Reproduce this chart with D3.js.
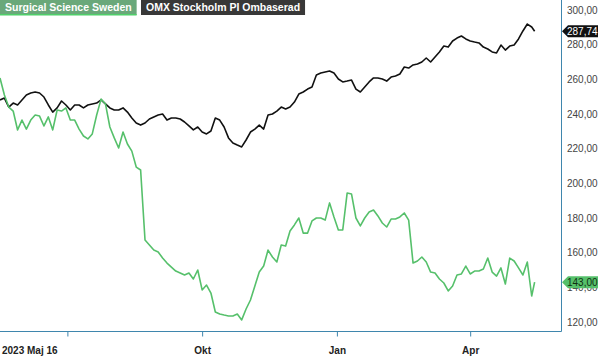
<!DOCTYPE html>
<html><head><meta charset="utf-8">
<script src="https://cdn.jsdelivr.net/npm/d3@7/dist/d3.min.js"></script>
<style>body{margin:0;background:#fff}svg{display:block;font-family:Arial,"Liberation Sans",sans-serif}</style>
</head><body><svg id="c" width="600" height="358"></svg>
<script>
const seriesNames = ["Surgical Science Sweden", "OMX Stockholm PI Ombaserad"];
const startDate = "2023-05-16";
const stepDays = 3;
const lastDate = "2024-05-15";
const surgical = [260.8,251.0,244.0,241.7,230.8,236.5,231.3,236.5,239.4,238.8,
233.1,238.3,230.8,242.3,241.7,243.5,236.5,236.5,231.3,227.3,
225.6,228.5,239.4,248.6,245.8,232.5,226.2,220.4,229.6,222.7,
218.6,209.4,207.7,167.3,164.4,161.5,160.4,156.9,154.0,151.7,
149.4,148.3,147.1,148.3,144.8,150.0,138.5,141.3,136.7,125.8,
124.6,124.0,123.5,123.5,124.6,121.2,127.5,132.7,140.8,148.8,
152.3,161.5,157.5,154.6,164.4,163.8,172.5,176.0,180.0,171.3,
171.3,178.3,180.0,180.0,178.8,188.7,180.6,173.1,173.1,194.4,
193.8,180.0,175.4,180.0,183.5,184.6,181.2,177.1,174.8,179.4,
179.4,180.6,182.9,178.8,154.0,155.2,157.5,154.6,148.8,148.3,
144.8,142.5,137.9,140.8,147.1,147.7,152.3,147.7,149.4,149.4,
150.6,156.9,148.8,146.5,151.2,141.9,156.9,155.2,151.2,147.1,
154.6,135.0,143.00];
const omx = [248.1,249.2,244.0,246.3,245.2,248.1,251.0,252.1,252.7,252.1,
249.8,245.2,241.1,243.5,247.5,245.2,242.3,245.2,245.2,243.5,
245.2,245.8,246.3,248.1,245.8,243.5,242.3,242.3,243.5,241.1,
237.7,234.8,233.6,234.8,237.1,238.3,239.4,240.0,236.5,237.7,
237.7,237.1,235.4,233.1,230.8,232.5,229.6,228.5,230.2,237.7,
236.5,232.5,226.2,223.3,222.1,221.0,225.0,229.6,231.3,233.6,
231.3,239.4,240.0,241.7,244.0,242.9,244.0,246.9,251.5,252.7,
254.4,255.6,262.5,263.6,264.2,264.8,263.6,260.2,258.5,259.0,
259.6,254.4,252.7,255.6,258.5,260.8,260.8,260.2,259.0,261.3,
261.9,263.1,267.1,266.5,268.3,268.8,270.0,272.3,270.0,272.9,
275.8,279.2,278.6,282.1,283.8,285.0,283.3,282.1,281.5,281.0,
278.6,277.5,275.8,275.2,279.8,276.9,279.2,279.8,283.3,287.9,
291.9,290.2,287.74];
const yTicks = [120,140,160,180,200,220,240,260,280,300];
const xTickDates = ["2023-07-01","2023-10-01","2024-01-01","2024-04-01"];
const xTickLabels = ["", "Okt", "Jan", "Apr"];
const firstLabel = "2023 Maj 16";

const parse = d3.timeParse("%Y-%m-%d");
const n = surgical.length;
const dates = d3.range(n - 1).map(i => d3.timeDay.offset(parse(startDate), i * stepDays)).concat([parse(lastDate)]);

const svg = d3.select("#c");
const plotR = 561, plotB = 331;
const x = d3.scaleTime().domain([parse(startDate), parse("2024-06-02")]).range([0, plotR]);
const y = d3.scaleLinear().domain([120, 300]).range([322, 10]);

const fmt = v => d3.format(".2f")(v).replace(".", ",");
const axisCol = "#3f86ad";

// lines
const line = d3.line().x((d, i) => x(dates[i])).y(d => y(d));
svg.append("path").datum(omx).attr("d", line).attr("fill", "none").attr("stroke", "#111").attr("stroke-width", 1.6).attr("stroke-linejoin", "round");
svg.append("path").datum(surgical).attr("d", line).attr("fill", "none").attr("stroke", "#56c06b").attr("stroke-width", 1.6).attr("stroke-linejoin", "round");

// right axis
const yAxis = d3.axisRight(y).tickValues(yTicks).tickSize(0).tickPadding(6).tickFormat(fmt);
const ya = svg.append("g").attr("transform", `translate(${plotR},0)`).call(yAxis);
ya.select(".domain").remove();
ya.selectAll("text").attr("font-size", 10).attr("fill", "#444").attr("font-family", "Arial, 'Liberation Sans', sans-serif");
svg.append("line").attr("x1", plotR + 0.5).attr("x2", plotR + 0.5).attr("y1", 0).attr("y2", plotB + 0.5).attr("stroke", axisCol);

// bottom axis
const xAxis = d3.axisBottom(x).tickValues(xTickDates.map(parse)).tickSize(5).tickFormat((d, i) => xTickLabels[i]);
const xa = svg.append("g").attr("transform", `translate(0,${plotB + 0.5})`).call(xAxis);
xa.select(".domain").remove();
xa.selectAll("line").attr("stroke", axisCol);
xa.selectAll("text").attr("font-size", 10).attr("font-weight", "bold").attr("fill", "#222").attr("dy", "1.45em").attr("font-family", "Arial, 'Liberation Sans', sans-serif");
svg.append("line").attr("x1", 0).attr("x2", plotR + 0.5).attr("y1", plotB + 0.5).attr("y2", plotB + 0.5).attr("stroke", axisCol);
svg.append("text").attr("x", 2).attr("y", 354).attr("font-size", 10).attr("font-weight", "bold").attr("fill", "#222").text(firstLabel);

// value tags
function tag(v, fill, tcol) {
  const cy = y(v), x0 = plotR + 1, h = 12, w = 36;
  const g = svg.append("g");
  g.append("path").attr("d", `M${x0},${cy} L${x0 + 6},${cy - h / 2} L${x0 + w},${cy - h / 2} L${x0 + w},${cy + h / 2} L${x0 + 6},${cy + h / 2} Z`).attr("fill", fill);
  g.append("text").attr("x", x0 + 5).attr("y", cy + 3.6).attr("font-size", 10).attr("fill", tcol).text(fmt(v));
}
tag(omx[omx.length - 1], "#111", "#fff");
tag(surgical[surgical.length - 1], "#56c06b", "#103010");

// legend
function legend(x0, label, fill, under) {
  const g = svg.append("g");
  const r = g.append("rect").attr("x", x0).attr("y", 0).attr("height", 15).attr("fill", fill);
  const t = g.append("text").attr("x", x0 + 5).attr("y", 11).attr("font-size", 10.5).attr("font-weight", "bold").attr("fill", "#fff").text(label);
  const w = t.node().getComputedTextLength();
  r.attr("width", w + 10);
  if (under) g.append("rect").attr("x", x0).attr("y", 14).attr("height", 1.5).attr("width", w + 10).attr("fill", under);
  return x0 + w + 10;
}
const e1 = legend(0, seriesNames[0], "#6aa87a", "#4fd06a");
legend(141, seriesNames[1], "#383838", null);
</script></body></html>
